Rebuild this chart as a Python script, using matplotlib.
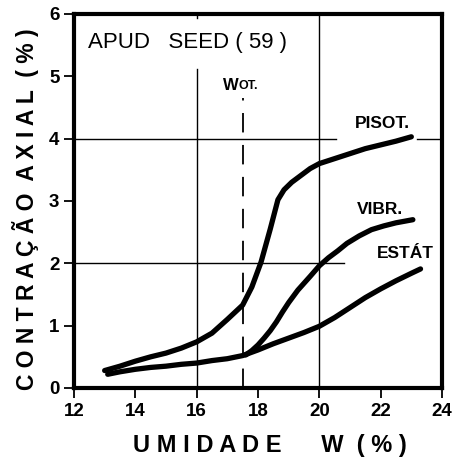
import matplotlib
matplotlib.use("Agg")
import matplotlib.pyplot as plt

plt.rcParams['lines.scale_dashes'] = False

# --- curve data: axial shrinkage (%) vs moisture content W (%) ---
PISOT_W = [13.0, 13.5, 14.0, 14.5, 15.0, 15.5, 16.0, 16.5, 17.0, 17.5, 17.8, 18.1,
           18.4, 18.65, 18.85, 19.1, 19.4, 19.7, 20.0, 20.5, 21.0, 21.5, 22.0, 22.5, 23.0]
PISOT_C = [0.28, 0.35, 0.43, 0.50, 0.56, 0.64, 0.74, 0.88, 1.10, 1.33, 1.62, 2.02,
           2.55, 3.02, 3.18, 3.30, 3.41, 3.52, 3.60, 3.68, 3.76, 3.84, 3.90, 3.96, 4.03]

VIBR_W = [17.6, 17.8, 18.0, 18.2, 18.4, 18.6, 18.8, 19.0, 19.3, 19.7, 20.0, 20.3,
          20.6, 20.9, 21.3, 21.7, 22.1, 22.5, 23.05]
VIBR_C = [0.53, 0.60, 0.69, 0.80, 0.92, 1.06, 1.22, 1.37, 1.57, 1.79, 1.96, 2.09,
          2.20, 2.32, 2.44, 2.54, 2.60, 2.65, 2.70]

ESTAT_W = [13.1, 13.5, 14.0, 14.5, 15.0, 15.5, 16.0, 16.5, 17.0, 17.5, 18.0, 18.5,
           19.0, 19.5, 20.0, 20.5, 21.0, 21.5, 22.0, 22.5, 23.0, 23.3]
ESTAT_C = [0.22, 0.26, 0.30, 0.33, 0.35, 0.38, 0.40, 0.44, 0.47, 0.52, 0.61, 0.71,
           0.80, 0.89, 0.99, 1.13, 1.29, 1.45, 1.59, 1.72, 1.84, 1.91]

W_OT = 17.5
X_TICKS = [12, 14, 16, 18, 20, 22, 24]
Y_TICKS = [0, 1, 2, 3, 4, 5, 6]

SANS = ['Liberation Sans', 'DejaVu Sans']

fig = plt.figure(figsize=(4.55, 4.65), dpi=100)
ax = fig.add_axes([0.1626, 0.1656, 0.8088, 0.8043])
ax.set_xlim(12, 24)
ax.set_ylim(0, 6)

# reference grid lines (partly broken around the labels)
glw = 1.0
ax.plot([16, 16], [0, 5.12], color='black', lw=glw)
ax.plot([16, 16], [5.93, 6], color='black', lw=glw)
ax.plot([20, 20], [0, 6], color='black', lw=glw)
ax.plot([12, 20.56], [4, 4], color='black', lw=glw)
ax.plot([23.2, 24], [4, 4], color='black', lw=glw)
ax.plot([12, 20.8], [2, 2], color='black', lw=glw)
ax.plot([W_OT, W_OT], [0, 4.65], color='black', lw=1.3, dashes=(14, 9))

# curves
for xs, ys in [(PISOT_W, PISOT_C), (VIBR_W, VIBR_C), (ESTAT_W, ESTAT_C)]:
    ax.plot(xs, ys, color='black', lw=3.8, solid_capstyle='round',
            solid_joinstyle='round', zorder=3)

# labels inside the plot
ax.text(12.46, 5.54, 'APUD   SEED ( 59 )', family=SANS, fontsize=16,
        ha='left', va='center')
wt = ax.text(16.86, 4.85, 'W', family=SANS, fontsize=12, fontweight='bold',
             ha='left', va='center')
ax.annotate('OT.', xy=(1, 0.08), xycoords=wt, family=SANS, fontsize=9,
            fontweight='bold', ha='left', va='bottom')
ax.text(22.07, 4.24, 'PISOT.', family=SANS, fontsize=12.5, fontweight='bold',
        ha='center', va='center')
ax.text(21.98, 2.87, 'VIBR.', family=SANS, fontsize=12.5, fontweight='bold',
        ha='center', va='center')
ax.text(22.79, 2.15, 'ESTÁT', family=SANS, fontsize=12.5, fontweight='bold',
        ha='center', va='center')

# axes frame and ticks
for s in ax.spines.values():
    s.set_linewidth(3)
ax.set_xticks(X_TICKS)
ax.set_yticks(Y_TICKS)
ax.tick_params(direction='out', length=7, width=1.3, labelsize=13.5)
ax.tick_params(axis='x', pad=4)
ax.tick_params(axis='y', pad=3.5)
for lab in ax.get_xticklabels() + ax.get_yticklabels():
    lab.set_family(SANS)
    lab.set_fontweight('bold')

fig.text(270 / 455, 1 - 445 / 465, 'U M I D A D E      W  ( % )',
         family=SANS, fontsize=17, fontweight='bold', ha='center', va='center')
fig.text(26 / 455, 1 - 209 / 465, 'C O N T R A Ç Ã O  A X I A L  ( % )',
         family=SANS, fontsize=16.5, fontweight='bold', rotation=90,
         ha='center', va='center')

fig.savefig('out.png', dpi=100)
